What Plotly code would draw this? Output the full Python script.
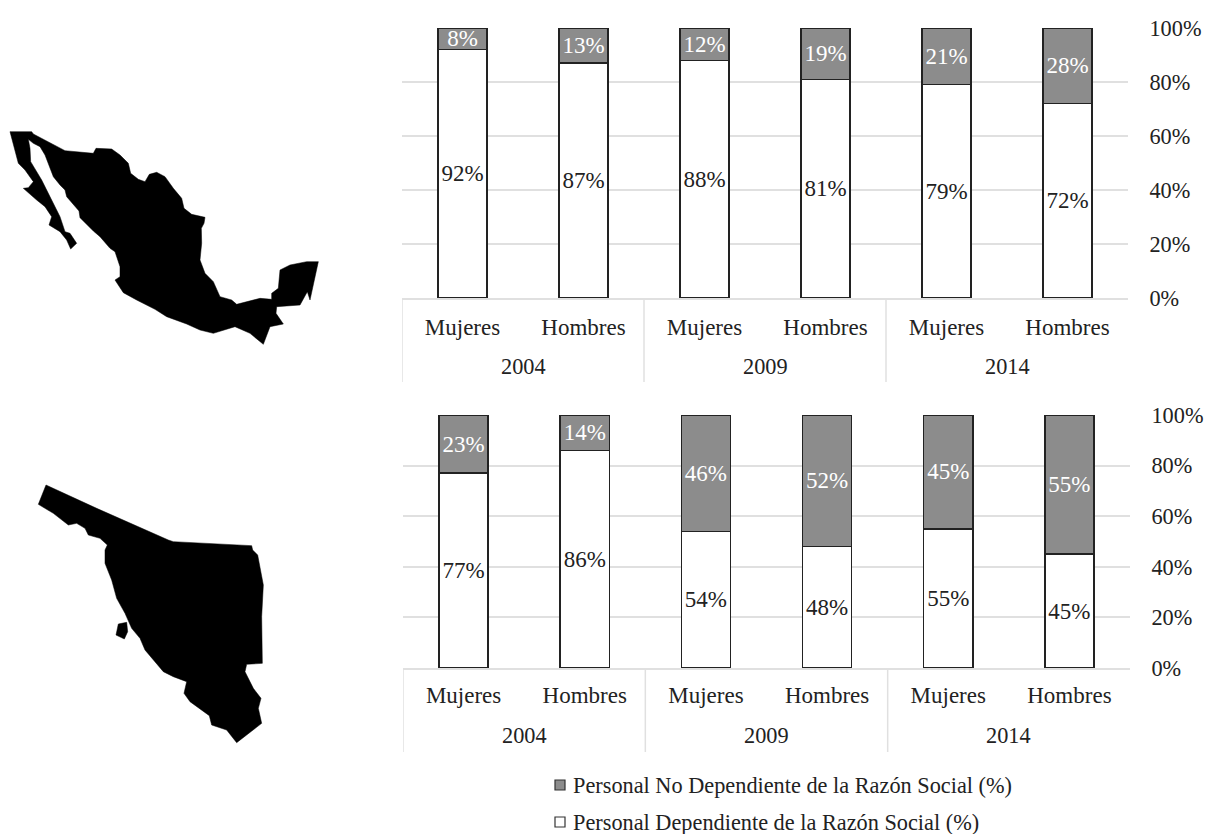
import plotly.graph_objects as go

W, H = 1205, 834
FONT = "Liberation Serif"
FS = 23

sexes = ["Mujeres", "Hombres"] * 3
years = ["2004", "2009", "2014"]
top_no_dep = [8, 13, 12, 19, 21, 28]
top_dep = [92, 87, 88, 81, 79, 72]
bot_no_dep = [23, 14, 46, 52, 45, 55]
bot_dep = [77, 86, 54, 48, 55, 45]
y_ticks = [0, 20, 40, 60, 80, 100]
y_tick_text = ["0%", "20%", "40%", "60%", "80%", "100%"]
legend_no_dep = "Personal No Dependiente de la Razón Social (%)"
legend_dep = "Personal Dependiente de la Razón Social (%)"

# Silhouette outlines at 3x zoom
mex_x = [30,95,100,130,165,195,280,288,335,360,385,392,415,435,448,470,495,520,545,552,575,615,612,604,605,600,615,640,660,695,710,740,780,815,815,835,840,870,920,955,950,940,930,922,900,830,828,850,810,790,750,705,670,640,600,560,500,465,410,370,345,360,360,345,330,300,280,258,240,237,220,200,195,180,160,150,135,120,100,85,90,92,110,125,140,155,165,180,195,210,230,212,200,180,147,155,135,110,70,85,100,75,55,45]
mex_y = [35,35,42,58,78,92,100,85,87,105,130,160,178,185,163,157,170,205,235,265,283,292,310,325,370,420,460,485,530,540,553,545,535,538,520,505,450,435,425,425,450,490,540,515,555,560,580,612,620,673,640,620,630,640,630,612,590,568,540,518,480,470,440,395,385,350,333,310,293,273,253,230,210,195,170,145,105,80,70,58,85,125,155,180,210,240,265,290,335,340,370,387,360,335,315,290,260,240,205,203,185,150,130,90]
son_x = [48,200,415,430,665,668,683,700,695,697,650,645,670,693,685,695,620,590,545,538,480,462,470,430,400,345,330,305,285,260,245,225,225,232,210,175,165,140,115,70,25]
son_y = [30,100,195,200,212,225,240,330,425,565,568,590,640,670,700,745,803,765,750,722,680,655,620,605,590,525,490,460,415,370,315,265,225,210,190,180,160,145,150,115,88]
isl_x = [265,290,293,283,258,262]
isl_y = [447,442,470,492,480,465]

fig = go.Figure()
GRAY, LINE, GRID, INK = "#8c8c8c", "#222222", "#e0e0e0", "#222222"
positions = list(range(6))


def add_panel(dep, no_dep, xa, ya):
    fig.add_trace(go.Bar(x=positions, y=dep, xaxis=xa, yaxis=ya, width=0.405, showlegend=False,
                         marker=dict(color="white", line=dict(color=LINE, width=1.5)),
                         text=[f"{v}%" for v in dep], textposition="inside", insidetextanchor="middle",
                         textangle=0, constraintext="none", textfont=dict(color=INK, family=FONT, size=FS)))
    fig.add_trace(go.Bar(x=positions, y=no_dep, xaxis=xa, yaxis=ya, width=0.405, showlegend=False,
                         marker=dict(color=GRAY, line=dict(color=LINE, width=1.5)),
                         text=[f"{v}%" for v in no_dep], textposition="inside", insidetextanchor="middle",
                         textangle=0, constraintext="none", textfont=dict(color="white", family=FONT, size=FS)))


add_panel(top_dep, top_no_dep, "x", "y")
add_panel(bot_dep, bot_no_dep, "x2", "y2")

# Map silhouettes on a hidden overlay axis in pixel units
for xs, ys, ox, oy in [(mex_x, mex_y, 0, 120), (son_x, son_y, 30, 475), (isl_x, isl_y, 30, 475)]:
    fig.add_trace(go.Scatter(x=[v / 3 + ox for v in xs] + [xs[0] / 3 + ox],
                             y=[v / 3 + oy for v in ys] + [ys[0] / 3 + oy],
                             xaxis="x3", yaxis="y3", mode="lines", fill="toself", fillcolor="black",
                             line=dict(color="black", width=0.5), showlegend=False, hoverinfo="skip"))


def px_x(v):
    return v / W


def px_y(v):
    return 1 - v / H


def xaxis(l, r, anchor, ticklen):
    return dict(domain=[px_x(l), px_x(r)], range=[-0.5, 5.5], anchor=anchor, tickvals=positions, ticktext=sexes,
                tickfont=dict(family=FONT, size=FS, color=INK), ticks="outside", ticklen=ticklen, automargin=False,
                tickcolor="rgba(0,0,0,0)", showgrid=False, zeroline=False, showline=True, linecolor=GRID, linewidth=2)


def yaxis(t, b, anchor):
    return dict(domain=[px_y(b), px_y(t)], range=[0, 100], anchor=anchor, side="right", tickvals=y_ticks,
                ticktext=y_tick_text, tickfont=dict(family=FONT, size=22.3, color=INK), ticks="outside", ticklen=16,
                automargin=False, tickcolor="rgba(0,0,0,0)", gridcolor=GRID, gridwidth=1.5, zeroline=False,
                showline=False)


shapes, annos = [], []
for xr, top, bottom, yr_y in [("x", 298, 382, 367), ("x2", 668, 752, 735)]:
    for s in [-0.5, 1.5, 3.5]:
        shapes.append(dict(type="line", xref=xr, yref="paper", x0=s, x1=s, y0=px_y(top), y1=px_y(bottom),
                           line=dict(color=GRID, width=1.5)))
    for i, yr in enumerate(years):
        annos.append(dict(text=yr, xref=xr, yref="paper", x=2 * i + 0.5, y=px_y(yr_y), showarrow=False, yanchor="middle",
                          font=dict(family=FONT, size=22.3, color=INK)))

for label, fc, cy in [(legend_no_dep, GRAY, 785), (legend_dep, "white", 822)]:
    shapes.append(dict(type="rect", xref="x3", yref="y3", x0=555, x1=565, y0=cy - 5, y1=cy + 5, fillcolor=fc,
                       line=dict(color="#333333", width=1.2)))
    annos.append(dict(text=label, xref="x3", yref="y3", x=571, y=cy, xanchor="left", showarrow=False, yanchor="middle",
                      font=dict(family=FONT, size=22.3, color=INK)))

fig.update_layout(
    width=W, height=H, autosize=False, margin=dict(l=0, r=0, t=0, b=0), barmode="stack",
    showlegend=False, paper_bgcolor="white", plot_bgcolor="rgba(0,0,0,0)", shapes=shapes, annotations=annos,
    xaxis=xaxis(402, 1128, "y", 7), yaxis=yaxis(28, 298, "x"),
    xaxis2=xaxis(403, 1130, "y2", 5), yaxis2=yaxis(415, 668, "x2"),
    xaxis3=dict(domain=[0, 1], range=[0, W], visible=False, anchor="y3", automargin=False),
    yaxis3=dict(domain=[0, 1], range=[H, 0], visible=False, anchor="x3", automargin=False),
)
fig.write_html("out.html", default_width=f"{W}px", default_height=f"{H}px", config={"displayModeBar": False},
               post_script="document.body.style.margin='0';document.documentElement.style.overflow='hidden';")
